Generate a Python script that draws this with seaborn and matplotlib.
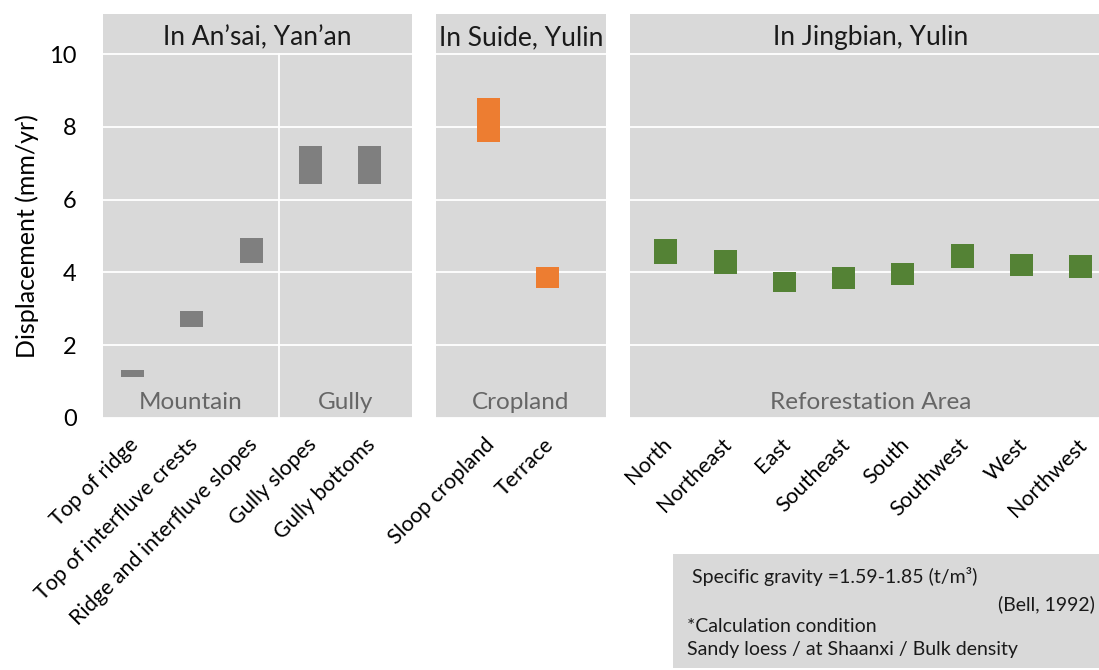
import matplotlib
matplotlib.use("Agg")
import matplotlib.pyplot as plt
import matplotlib.transforms as mtransforms
from matplotlib.patches import Rectangle
import seaborn as sns
import pandas as pd
import numpy as np

# ---------------- data ----------------
ansai_sites = ["Top of ridge", "Top of interfluve crests", "Ridge and interfluve slopes",
               "Gully slopes", "Gully bottoms"]
ansai_low = [1.12, 2.50, 4.25, 6.42, 6.42]
ansai_high = [1.31, 2.93, 4.94, 7.47, 7.47]

suide_sites = ["Sloop cropland", "Terrace"]
suide_low = [7.58, 3.58]
suide_high = [8.81, 4.16]

jingbian_sites = ["North", "Northeast", "East", "Southeast", "South", "Southwest", "West", "Northwest"]
jingbian_low = [4.22, 3.96, 3.47, 3.55, 3.64, 4.11, 3.89, 3.85]
jingbian_high = [4.92, 4.61, 4.02, 4.14, 4.25, 4.79, 4.51, 4.47]

panel_titles = ["In An\u2019sai, Yan\u2019an", "In Suide, Yulin", "In Jingbian, Yulin"]
section_labels = ["Mountain", "Gully", "Cropland", "Reforestation Area"]
y_ticks = [0, 2, 4, 6, 8, 10]
y_label = "Displacement (mm/yr)"
note_lines = ["Specific gravity =1.59-1.85 (t/m\u00b3)", "(Bell, 1992)",
              "*Calculation condition", "Sandy loess / at Shaanxi / Bulk density"]

gap1, gap2 = " ", "  "
order = ansai_sites + [gap1] + suide_sites + [gap2] + jingbian_sites

colors = ["#7f7f7f", "#ed7d31", "#548235"]

# ---------------- figure ----------------
sns.set_theme(style="white")
plt.rcParams["font.family"] = ["Lato", "DejaVu Sans"]

W, H = 1099, 670
fig = plt.figure(figsize=(W / 100, H / 100), dpi=100)
ax_left = 103 / W
ax_right = 1110.3 / W
ax_bottom = (H - 417.7) / H
ax_top = (H - 14.3) / H
ax = fig.add_axes([ax_left, ax_bottom, ax_right - ax_left, ax_top - ax_bottom])
ax.set_facecolor("#d9d9d9")

groups = [(ansai_sites, ansai_low, ansai_high),
          (suide_sites, suide_low, suide_high),
          (jingbian_sites, jingbian_low, jingbian_high)]
for (sites, lo, hi), c in zip(groups, colors):
    df = pd.DataFrame({"site": sites, "low": lo, "high": hi})
    df["span"] = df["high"] - df["low"]
    sns.barplot(data=df, x="site", y="span", order=order, bottom=df["low"].values,
                color=c, saturation=1, width=0.39, errorbar=None, ax=ax,
                edgecolor="none", linewidth=0, zorder=3)

ax.set_xlim(-0.5, 16.5)
ax.set_ylim(0, 11.1)
ax.set_yticks(y_ticks)
ax.set_axisbelow(True)
ax.yaxis.grid(True, color="white", linewidth=1.3)
ax.xaxis.grid(False)
for s in ax.spines.values():
    s.set_visible(False)

# white gaps between panels
ax.axvspan(4.71, 5.12, color="white", lw=0, zorder=1)
ax.axvspan(7.99, 8.40, color="white", lw=0, zorder=1)
# divider between Mountain and Gully
ax.axvline(2.465, ymin=0, ymax=10 / 11.1, color="white", lw=1.3, zorder=0.8)

# panel titles
title_x = [(-0.5 + 4.71) / 2, (5.12 + 7.99) / 2, (8.40 + 16.5) / 2]
for t, x in zip(panel_titles, title_x):
    ax.text(x, 10.46, t, ha="center", va="center", fontsize=19, color="#1a1a1a")

# section labels
sec_x = [(-0.5 + 2.465) / 2, (2.465 + 4.71) / 2, (5.12 + 7.99) / 2, (8.40 + 16.5) / 2]
for t, x in zip(section_labels, sec_x):
    ax.text(x, 0.42, t, ha="center", va="center", fontsize=17.5, color="#666666")

# axes labels / ticks
ax.set_xlabel("")
ax.set_ylabel(y_label, fontsize=18, color="black")
ax.yaxis.set_label_coords((39 - 103) / 1007.3, 5 / 11.1)
ax.tick_params(axis="y", length=0, pad=19, labelsize=17, labelcolor="black")
ax.tick_params(axis="x", length=0, pad=12, labelsize=15.5, labelcolor="black")
offset = mtransforms.ScaledTranslation(-4 / 100, 0, fig.dpi_scale_trans)
for lbl in ax.get_xticklabels():
    lbl.set_rotation(45)
    lbl.set_ha("right")
    lbl.set_va("top")
    lbl.set_rotation_mode("anchor")
    lbl.set_transform(lbl.get_transform() + offset)

# note box
fig.patches.append(Rectangle((673.3 / W, (H - 668) / H), 1 - 673.3 / W, (668 - 554) / H,
                             transform=fig.transFigure, facecolor="#d9d9d9",
                             edgecolor="none", zorder=0))
fs_note = 14
fig.text(691.7 / W, 1 - 576.7 / H, note_lines[0], ha="left", va="center", fontsize=fs_note, color="#1a1a1a")
fig.text(1095 / W, 1 - 604 / H, note_lines[1], ha="right", va="center", fontsize=fs_note, color="#1a1a1a")
fig.text(687.3 / W, 1 - 626.7 / H, note_lines[2], ha="left", va="center", fontsize=fs_note, color="#1a1a1a")
fig.text(687.3 / W, 1 - 649 / H, note_lines[3], ha="left", va="center", fontsize=fs_note, color="#1a1a1a")

fig.savefig("out.png", dpi=100)
